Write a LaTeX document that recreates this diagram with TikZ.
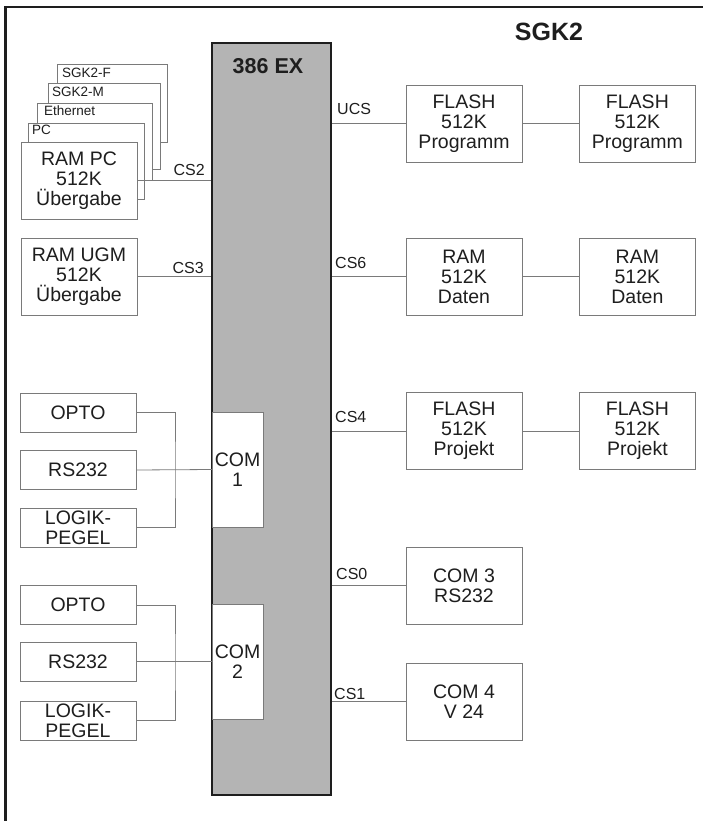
\documentclass[tikz,border=0pt]{standalone}
\usepackage{fontspec}
\setmainfont{Liberation Sans}
\usetikzlibrary{positioning}

\definecolor{cpugray}{HTML}{B4B4B4}
\definecolor{linegray}{HTML}{7A7A7A}
\definecolor{inkdark}{HTML}{1E1E1E}

\begin{document}
\begin{tikzpicture}[
    x=1pt, y=-1pt,
    node distance=57pt,
    unit/.style={draw=linegray, fill=white, inner sep=0pt, align=center, minimum width=116pt, minimum height=77pt, text=inkdark, font=\fontsize{19.5}{20}\selectfont},
    sidebox/.style={unit, minimum height=39pt},
    stackbox/.style={draw=linegray, fill=white, inner sep=0pt},
    stacktag/.style={anchor=west, inner sep=0pt, text=inkdark, font=\fontsize{13.5}{14}\selectfont},
    bus/.style={inner sep=0pt, text=inkdark, font=\fontsize{16}{17}\selectfont},
    cpubox/.style={draw=inkdark, line width=1.6pt, fill=cpugray, minimum width=119pt, minimum height=752pt, inner sep=0pt},
    combox/.style={unit, minimum width=51pt, minimum height=115pt},
    heading/.style={inner sep=0pt, text=inkdark, font=\fontsize{25}{27}\selectfont\bfseries},
    wire/.style={draw=linegray, line width=0.8pt}
]
\useasboundingbox (0,0) rectangle (703,821);

% frame, only top and left edge visible
\begin{scope}
  \clip (0,0) rectangle (703,821);
  \draw[inkdark, line width=2.5pt] (5.5,840) -- (5.5,7) -- (720,7);
\end{scope}

\node[heading] (board) at (549,32) {SGK2};

% processor
\node[cpubox] (cpu) at (271.5,419) {};
\node[heading, font=\fontsize{21.5}{23}\selectfont\bfseries] (cpulbl) at (268,66) {386 EX};
\node[combox] (com1) at (237.5,469.5) {COM\\1};
\node[combox] (com2) at (237.5,661.5) {COM\\2};

% stacked transfer RAM
\node[stackbox, minimum width=110pt, minimum height=78pt] (sgkf) at (112,103) {};
\node[stacktag] at ([shift={(5,9)}]sgkf.north west) {SGK2-F};
\node[stackbox, minimum width=112pt, minimum height=86pt] (sgkm) at (104,126) {};
\node[stacktag] at ([shift={(4,9)}]sgkm.north west) {SGK2-M};
\node[stackbox, minimum width=115pt, minimum height=77pt] (ether) at (94.5,141.5) {};
\node[stacktag] at ([shift={(7,8)}]ether.north west) {Ethernet};
\node[stackbox, minimum width=116pt, minimum height=76pt] (pcram) at (86,161) {};
\node[stacktag] at ([shift={(4,7)}]pcram.north west) {PC};
\node[unit] (rampc) at (79,180.5) {RAM PC\\512K\\Übergabe};

\node[unit] (ramugm) at (79,276.5) {RAM UGM\\512K\\Übergabe};

% serial line drivers
\node[sidebox] (opto1) at (78,412.5) {OPTO};
\node[sidebox] (rsa) at (78,470) {RS232};
\node[sidebox] (logik1) at (78,527.5) {LOGIK-\\PEGEL};
\node[sidebox] (opto2) at (78,605) {OPTO};
\node[sidebox] (rsb) at (78,661.5) {RS232};
\node[sidebox] (logik2) at (78,720.5) {LOGIK-\\PEGEL};
\coordinate (jn1) at (175,470);
\coordinate (jn2) at (175,661.5);

% memory and ports on the right
\node[unit] (flashA) at (464,123.5) {FLASH\\512K\\Programm};
\node[unit, right=of flashA] (flashB) {FLASH\\512K\\Programm};
\node[unit] (ramA) at (464,276.5) {RAM\\512K\\Daten};
\node[unit, right=of ramA] (ramB) {RAM\\512K\\Daten};
\node[unit] (projA) at (464,431) {FLASH\\512K\\Projekt};
\node[unit, right=of projA] (projB) {FLASH\\512K\\Projekt};
\node[unit] (com3) at (464,585.5) {COM 3\\RS232};
\node[unit] (com4) at (464,701.5) {COM 4\\V 24};

% chip selects
\draw[wire] (rampc.east) -- (rampc.east -| cpu.west);
\draw[wire] (ramugm.east) -- (ramugm.east -| cpu.west);
\node[bus, anchor=east] (cs2) at (205,170) {CS2};
\node[bus, anchor=east] (cs3) at (204,268) {CS3};

\draw[wire] (cpu.east |- flashA.west) -- (flashA.west);
\draw[wire] (flashA) -- (flashB);
\draw[wire] (cpu.east |- ramA.west) -- (ramA.west);
\draw[wire] (ramA) -- (ramB);
\draw[wire] (cpu.east |- projA.west) -- (projA.west);
\draw[wire] (projA) -- (projB);
\draw[wire] (cpu.east |- com3.west) -- (com3.west);
\draw[wire] (cpu.east |- com4.west) -- (com4.west);
\node[bus, anchor=west] (ucs) at (337,109) {UCS};
\node[bus, anchor=west] (cs6) at (335,263) {CS6};
\node[bus, anchor=west] (cs4) at (335,417) {CS4};
\node[bus, anchor=west] (cs0) at (336,574) {CS0};
\node[bus, anchor=west] (cs1) at (334,694) {CS1};

% COM 1 / COM 2 line drivers
\draw[wire] (opto1.east) -| (jn1) |- (logik1.east);
\draw[wire] (rsa.east) -- (com1.west);
\draw[wire] (opto2.east) -| (jn2) |- (logik2.east);
\draw[wire] (rsb.east) -- (com2.west);
\end{tikzpicture}
\end{document}
